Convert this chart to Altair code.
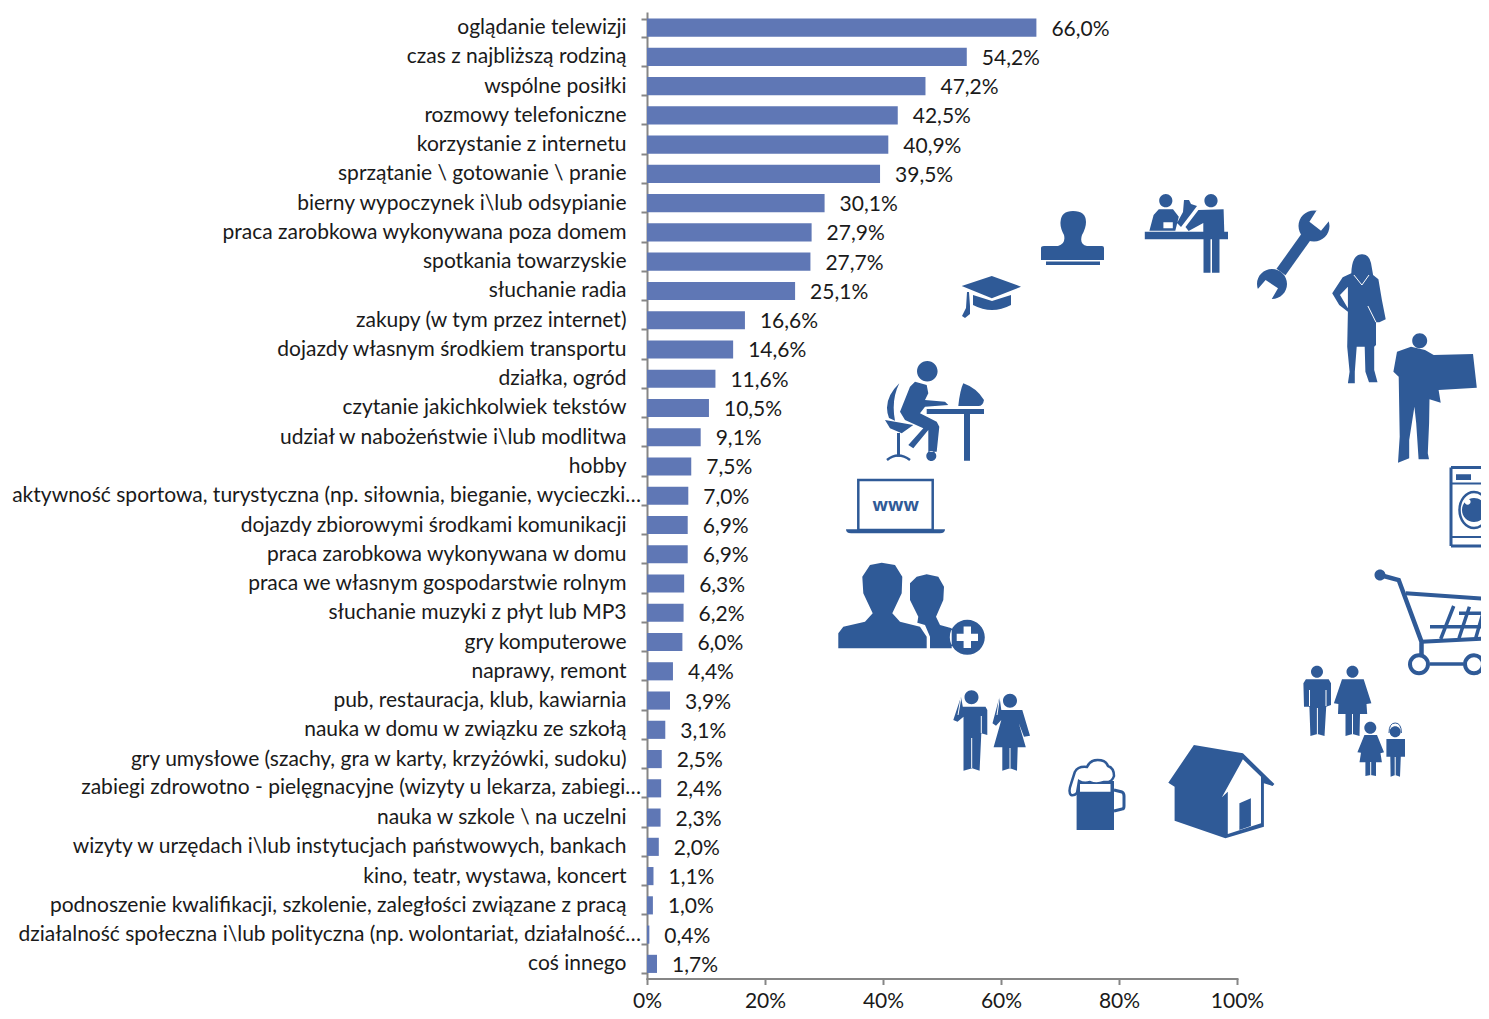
import altair as alt
import pandas as pd

categories = [
    "oglądanie telewizji", "czas z najbliższą rodziną", "wspólne posiłki", "rozmowy telefoniczne",
    "korzystanie z internetu", "sprzątanie \\ gotowanie \\ pranie", "bierny wypoczynek i\\lub odsypianie",
    "praca zarobkowa wykonywana poza domem", "spotkania towarzyskie", "słuchanie radia",
    "zakupy (w tym przez internet)", "dojazdy własnym środkiem transportu", "działka, ogród",
    "czytanie jakichkolwiek tekstów", "udział w nabożeństwie i\\lub modlitwa", "hobby",
    "aktywność sportowa, turystyczna (np. siłownia, bieganie, wycieczki…",
    "dojazdy zbiorowymi środkami komunikacji", "praca zarobkowa wykonywana w domu",
    "praca we własnym gospodarstwie rolnym\u00a0", "słuchanie muzyki z płyt lub MP3", "gry komputerowe",
    "naprawy, remont", "pub, restauracja, klub, kawiarnia", "nauka w domu w związku ze szkołą",
    "gry umysłowe (szachy, gra w karty, krzyżówki, sudoku)",
    "zabiegi zdrowotno - pielęgnacyjne (wizyty u lekarza, zabiegi…", "nauka w szkole \\ na uczelni",
    "wizyty w urzędach i\\lub instytucjach państwowych, bankach", "kino, teatr, wystawa, koncert",
    "podnoszenie kwalifikacji, szkolenie, zaległości związane z pracą",
    "działalność społeczna i\\lub polityczna (np. wolontariat, działalność…", "coś innego",
]
values = [66.0, 54.2, 47.2, 42.5, 40.9, 39.5, 30.1, 27.9, 27.7, 25.1, 16.6, 14.6, 11.6, 10.5, 9.1, 7.5,
          7.0, 6.9, 6.9, 6.3, 6.2, 6.0, 4.4, 3.9, 3.1, 2.5, 2.4, 2.3, 2.0, 1.1, 1.0, 0.4, 1.7]
value_labels = [f"{v:.1f}%".replace(".", ",") for v in values]
x_ticks = [0, 20, 40, 60, 80, 100]

FONT = "Lato"
FS = 21
BAR = "#5F77B5"
GREY = "#868686"
BLUE = "#2F5A97"
WHITE = "#FFFFFF"


def poly(s):
    pts = s.split()
    return "M" + "L".join(pts) + "Z"


def line(s):
    return "M" + "L".join(s.split())


def ell(cx, cy, rx, ry=None):
    ry = rx if ry is None else ry
    return f"M{cx-rx},{cy}A{rx},{ry} 0 1 0 {cx+rx},{cy}A{rx},{ry} 0 1 0 {cx-rx},{cy}Z"


def rect(x0, y0, x1, y1):
    return f"M{x0},{y0}L{x1},{y0}L{x1},{y1}L{x0},{y1}Z"


# decorative pictograms, in page pixels
blue_fill = " ".join([
    # cap
    poly("961.7,286 991.8,276 1021,286.7 991.8,298.3"),
    "M973,295L992,301L1011,295L1011,305Q992,315 973,305Z",
    poly("967,292 969,292 970,306 970,314 965,318 962,316 966,308"),
    # stamp
    "M1041,248Q1041,246 1044,246L1058,246Q1066,244 1064,235Q1060,228 1060.5,222Q1061,211 1073,211Q1086,211 1086,222Q1086,228 1082,235Q1079,244 1087,246L1102,246Q1104,246 1104,248L1104,260L1041,260Z",
    rect(1046, 261.5, 1100, 265),
    # clerk
    rect(1144.8, 231.7, 1228, 239.3),
    ell(1165.8, 200.7, 6.6), ell(1211, 200.7, 6.6),
    poly("1149.4,230.7 1153.6,215 1158.8,209.3 1173,209.3 1178.8,216.7 1175.3,230.7"),
    poly("1203.3,231.7 1203.3,223 1188.6,231 1185.5,227 1198.4,210 1223.6,209.3 1224.3,231.7"),
    rect(1203.5, 239, 1210.5, 272.7), rect(1212, 239, 1219.5, 272.7),
    poly("1184,200 1189,200 1191,204 1197,206 1191,214 1181,227 1177,223 1183,212"),
    # wrench
    ell(1314, 226, 15.5), ell(1272, 284, 15),
    # woman
    "M1361.9,254.3Q1369,254 1371,263L1373.1,275L1378.4,279.3L1381.9,300L1385.7,319.3L1379.4,322.3L1376,322.3L1376,345L1374.2,346.7L1374.2,370L1377.5,382.3L1369,382.3L1365.4,371.7L1364.7,346.7L1356.7,346.7L1354.8,371.7L1354.8,383.3L1347.9,383.3L1349.6,371.7L1347.2,346.7L1347.9,311.7L1339.2,305L1332.2,293.3L1342.7,277.3L1351.3,273.3Q1352,254 1361.9,254.3Z",
    # man with board
    ell(1419.7, 340.7, 7.5),
    poly("1411,346.7 1425,350 1433.7,355 1473,354 1476.8,387.7 1438.6,390 1440.7,402.7 1429.5,399.3 1429.1,423.3 1427.8,453.3 1429,459.3 1418.6,459.3 1416.2,423.3 1414.4,406.7 1409.2,440 1409.2,458.3 1398,462.7 1399.7,436.7 1398.7,376.7 1393.4,371.7 1397,351.7"),
    # desk worker
    ell(927.3, 371.3, 10.3),
    "M899.3,383.3Q882,400 889,418L895,420.7Q891,400 899.3,383.3Z",
    poly("885,420 913.3,425 901.7,433.3 890,428.3"),
    rect(897, 433, 900, 456.7),
    poly("915,381.7 926.7,385 928.3,393.3 925,400 945,401.7 948.3,405 925,406.7 920,413.3 936.7,421.7 939.3,426.7 936.7,451.7 928.3,451.7 928.3,430 913.3,448.3 908.3,445 923.3,428.3 905,420 900,411.7 910,386.7"),
    ell(931.3, 456, 5),
    rect(926.7, 409, 984, 414), rect(964, 414, 970, 460.7),
    "M963.3,383.3Q976.7,388 984,400Q983,406 978.3,406L958.3,406Q960,390 963.3,383.3Z",
    # laptop base
    "M846,529.3L945,529.3Q945,533.3 940,533.3L851,533.3Q846,533.3 846,529.3Z",
    # people
    poly("838.3,648.3 838.3,633.3 843.3,626.7 865,621.7 872.7,613.3 863.3,593.3 862.3,576.7 870,565 881.7,562.7 895,565 902.3,576.7 901.7,593.3 892.3,613.3 900,621.7 920,626.7 926.7,636.7 926.7,648.3"),
    poly("930,648.3 930,636.7 925,625 917.3,622.7 918.3,616.7 910,600 910,583.3 916.7,576.7 926.7,574.3 938.3,576.7 944,586.7 943.3,600 936,616.7 940,625 951.7,628.3 951.7,648.3"),
    ell(967.3, 637.3, 17.5),
    # couple with phones
    ell(971.5, 697.3, 7),
    poly("962.8,706.7 985.5,706.7 987.3,710 987.3,735 981.3,733.3 979.6,770.7 972.2,768.3 963.5,770.7 963.5,716.7 957.5,721.7 953.3,720 961,696.7"),
    ell(1010, 700.7, 7),
    poly("1001.3,710 1022.3,710 1030,735.7 1024,736.7 1018.8,723.3 1025.8,747.3 1017.7,747.3 1017,770.7 1010,768.3 1002.3,770.7 1002.3,747.3 993.6,747.3 1001.3,720 996,725.7 992.5,723.3 999.5,696.7"),
    # beer
    rect(1076.6, 781, 1114, 830),
    # house
    poly("1193.9,745 1242.9,753.3 1274.4,784 1272.6,786 1263.9,783.3 1263.9,826.7 1225.4,838.3 1174.6,820.7 1174.6,786.7 1168.3,782.7"),
    # family
    ell(1317, 671.7, 6),
    poly("1305.9,679.3 1328.7,679.3 1331,683.3 1331,705 1326.2,706.7 1324.5,736 1317.4,734 1310.4,736 1309.4,706.7 1304,706.7 1303.4,683.3"),
    ell(1352.5, 671.7, 6),
    poly("1342,679.3 1363.7,679.3 1371.4,703.3 1366.5,704 1367.2,714 1360,714 1359.5,736 1352.5,734 1345.5,736 1345.5,714 1338,714 1338.4,704 1333.9,703.3"),
    ell(1370.3, 727.7, 6),
    poly("1364.4,735 1377,735 1384,752.3 1380.5,753.3 1381.9,762.3 1376,762.3 1376,776 1370.7,775 1365.4,776 1365.4,762.3 1359.5,762.3 1361,752.7 1357.4,752.3"),
    ell(1395.2, 731.7, 5.5),
    poly("1386.4,739 1405,739 1405,756.7 1400.8,756.7 1400,776.7 1395.2,775 1390.6,776.7 1390.3,756.7 1386.4,756.7"),
    # cart handle
    ell(1380, 575, 5.5),
    # washer panel
    rect(1456, 474.3, 1471, 480), ell(1484, 476.7, 2.5), ell(1474, 510, 12),
])

white_fill = " ".join([
    poly("1316.4,210.7 1309.4,221.7 1321,230.7 1329.3,220.7 1338,205"),
    poly("1257,290 1265.6,280 1278,288.3 1271.6,299.3 1252,305"),
    poly("1347.9,286.7 1340,295 1347.9,308.3"),
    rect(1163.4, 222.3, 1172.8, 228.3),
    rect(956.7, 633.7, 978, 641), rect(963.6, 626.6, 971, 648),
    poly("1242.9,759.3 1261,776.7 1261,823.3 1227.8,834 1227.8,791.7 1221.9,797.3"),
    ell(1467.6, 501.7, 3),
    rect(1080, 784, 1110.5, 791.7),
])
door = poly("1239.4,803.3 1250.9,798.3 1250.9,826 1239.4,830")
white_lines = " ".join([
    line("1367.9,306 1376,322.3"),
    line("1353.9,275 1361.9,285 1369,275"),
    line("971.7,738 971.7,768"), line("1010,748 1010,768"),
    line("1317.4,708 1317.4,734"), line("1352.5,714 1352.5,734"),
    line("1370.7,762 1370.7,775"), line("1395.2,757 1395.2,775"),
    line("961,697 958,715"), line("999.5,697 997,715"),
    line("1309.5,690 1309.5,706"), line("1326,690 1326,706"), line("981.3,716 981.3,733"),
])

stroked = [
    (line("1306,237 1281,272"), 11),
    ("M1451,467.5L1489,467.5M1451,546L1489,546M1451,467.5L1451,546", 3),
    ("M1451,483.5L1489,483.5M1451,537L1489,537", 2),
    (ell(1474, 510, 14.5, 18), 2.5),
    (rect(858.3, 480, 932.7, 530), 2.5),
    (line("1380,575 1398.7,580 1421.5,641.7 1421.5,655"), 4.5),
    (line("1405.7,593.3 1491,599.3") + line("1421.5,641.7 1491,638.3"), 4),
    (line("1430,626.7 1491,626.7") + line("1459,613.3 1491,613.3") + line("1453.7,606 1440.7,639")
     + line("1469.4,606.7 1459,638.3") + line("1484.5,607.7 1475.7,638.3"), 3.5),
    (line("1430,664 1463.5,664"), 3.5),
    (ell(1419, 664.3, 9) + ell(1474, 664.3, 9), 4),
    ("M1114,790L1122,792Q1124,793 1124,796L1124,806Q1124,809 1122,809L1114,811", 3),
    ("M1389,733Q1389,723 1395.2,723Q1401.4,723 1401.4,733", 1),
    ("M887,460Q898,451 910,460", 2.5),
]
foam = ("M1071,795Q1068,792 1071,784L1074.8,772Q1078,766 1087,767Q1090,760 1097.6,760Q1106,760 1108,766"
        "Q1114,768 1114,776Q1112,783 1104,782Q1096,785 1090,782Q1084,784 1079,781L1077,793Q1074,796 1071,795Z")


def deco(path, fill=None, stroke=None, width=0):
    kw = dict(shape=path, size=4, opacity=1, strokeWidth=width)
    if fill:
        kw.update(filled=True, fill=fill)
    else:
        kw.update(filled=False)
    if stroke:
        kw.update(stroke=stroke)
    return alt.Chart(alt.Data(values=[{"k": 1}])).mark_point(**kw).encode(
        x=alt.value(-647), y=alt.value(-13))


df = pd.DataFrame({"cat": categories, "val": values, "lab": value_labels})
y_enc = alt.Y("cat:N", sort=categories, title=None,
              scale=alt.Scale(paddingInner=0.38, paddingOuter=0.19),
              axis=alt.Axis(domainColor=GREY, domainWidth=2, tickColor=GREY, tickWidth=2, tickSize=6,
                            tickBand="extent", labelFont=FONT, labelFontSize=FS, labelColor="#1a1a1a",
                            labelLimit=800, labelPadding=15, labelOffset=0,
                            labelExpr="slice(datum.label,-1)=='…' ? '' : datum.label"))
x_enc = alt.X("val:Q", title=None, scale=alt.Scale(domain=[0, 100], nice=False),
              axis=alt.Axis(values=x_ticks, grid=False, domainColor=GREY, domainWidth=2, tickColor=GREY,
                            tickWidth=2, tickSize=6, labelFont=FONT, labelFontSize=FS, labelColor="#1a1a1a",
                            labelPadding=6, labelFlush=False, labelExpr="datum.value+'%'"))

bars = alt.Chart(df).mark_bar(color=BAR).encode(x=x_enc, y=y_enc)
val_text = alt.Chart(df).mark_text(align="left", baseline="middle", dx=15, dy=2, font=FONT, fontSize=FS,
                                   color="#1a1a1a").encode(x="val:Q", y=alt.Y("cat:N", sort=categories), text="lab:N")
trunc = alt.Chart(df).transform_filter("slice(datum.cat,-1)=='…'").mark_text(
    align="right", baseline="middle", dx=-6, dy=0, font=FONT, fontSize=FS, color="#1a1a1a").encode(
    x=alt.value(0), y=alt.Y("cat:N", sort=categories), text="cat:N")

layers = [bars, val_text, trunc, deco(blue_fill, fill=BLUE), deco(foam, fill=WHITE, stroke=BLUE, width=2.5),
          deco(white_fill, fill=WHITE), deco(door, fill=BLUE), deco(white_lines, stroke=WHITE, width=1)]
layers += [deco(p, stroke=BLUE, width=w) for p, w in stroked]
www = alt.Chart(alt.Data(values=[{"k": 1}])).mark_text(
    text="www", font="Open Sans", fontWeight="bold", fontSize=18, color=BLUE, align="center", baseline="middle").encode(
    x=alt.value(895.7 - 647), y=alt.value(506 - 13))
layers.append(www)

chart = alt.layer(*layers).properties(
    width=590, height=965.5,
    autosize=alt.AutoSizeParams(type="none"),
    padding={"left": 639, "top": 5, "right": 244, "bottom": 32.5},
).configure_view(stroke=None).configure_axis(domainCap="square")

chart.save("out.html", embed_options={"renderer": "svg", "actions": False})
